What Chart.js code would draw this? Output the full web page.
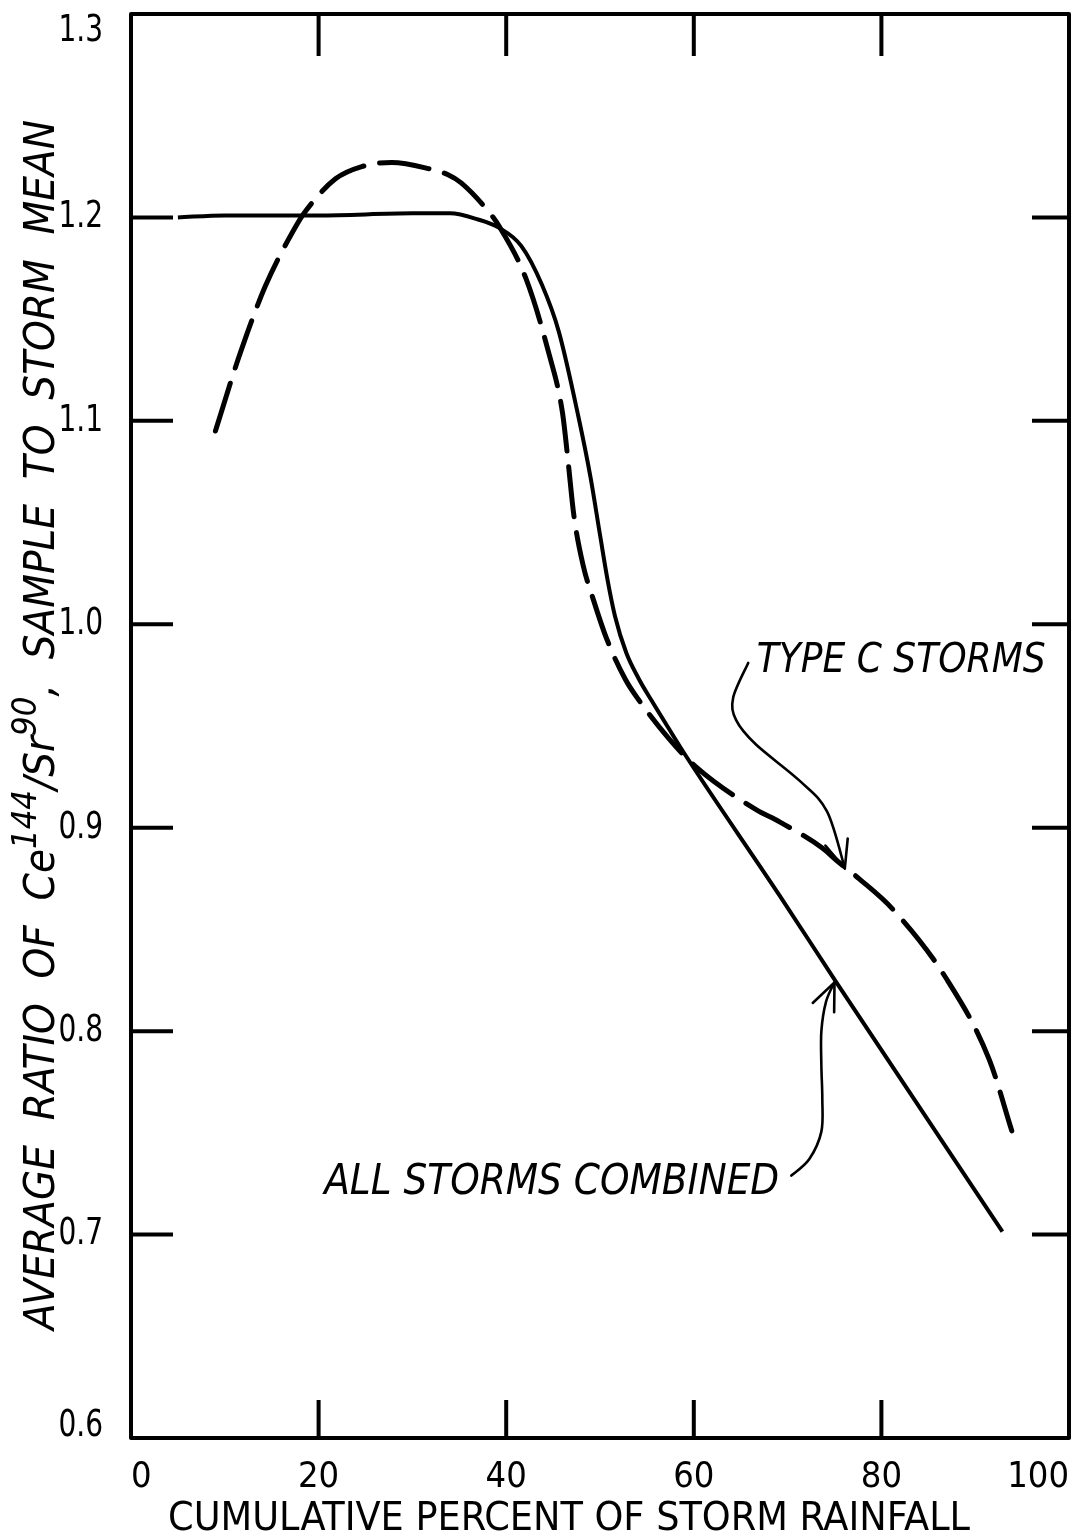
<!DOCTYPE html>
<html>
<head>
<meta charset="utf-8">
<script src="https://cdn.jsdelivr.net/npm/chart.js@4.4.0/dist/chart.umd.min.js"></script>
<style>
  html, body { margin: 0; padding: 0; background: #fff; }
</style>
</head>
<body>
<canvas id="ratio_canvas" width="1079" height="1535"></canvas>
<script>
// tick labels
const xTickLabels = ['0', '20', '40', '60', '80', '100'];
const yTickLabels = ['0.6', '0.7', '0.8', '0.9', '1.0', '1.1', '1.2', '1.3'];

// all storms combined (solid)
const allStormsX = [5, 10, 20, 30, 34, 37, 39.2, 41.6, 43.8, 45.6, 47.7, 49.0, 50.0, 50.8, 51.6, 52.8, 54.1, 55.5, 57.3, 59.2, 69.1, 75.2, 92.9];
const allStormsY = [1.200, 1.201, 1.201, 1.202, 1.202, 1.199, 1.195, 1.186, 1.167, 1.144, 1.102, 1.072, 1.044, 1.022, 1.004, 0.986, 0.9735, 0.9625, 0.949, 0.935, 0.867, 0.824, 0.7015];

// type C storms (dashed)
const typeCX = [9.0, 11.4, 14.3, 17.5, 18.6, 21.8, 24.6, 27.8, 31.7, 33.8, 35.2, 38.1, 39.2, 42.1, 44.5, 46.0, 46.6, 47.2, 48.2, 49.3, 50.7, 52.7, 54.1, 57.3, 60.2, 66.6, 69.1, 73.7, 75.2, 77.6, 81.2, 86.9, 91.5, 93.9];
const typeCY = [1.095, 1.130, 1.166, 1.195, 1.203, 1.219, 1.225, 1.227, 1.224, 1.221, 1.217, 1.203, 1.196, 1.170, 1.134, 1.104, 1.080, 1.054, 1.029, 1.012, 0.993, 0.973, 0.963, 0.944, 0.930, 0.909, 0.903, 0.890, 0.884, 0.875, 0.860, 0.826, 0.786, 0.751];

// labels + arrows (data units)
const typeCLabel = 'TYPE C STORMS';
const allStormsLabel = 'ALL STORMS COMBINED';
const typeCArrow = [[65.8, 0.981], [64.2, 0.964], [64.5, 0.953], [66.6, 0.941], [71.3, 0.923], [74.2, 0.908], [76.1, 0.880]];
const allStormsArrow = [[70.4, 0.729], [72.3, 0.737], [73.6, 0.7506], [73.7, 0.767], [73.6, 0.783], [73.6, 0.800], [74.1, 0.8145], [75.0, 0.824]];

const FONT = "'DejaVu Sans Condensed', 'DejaVu Sans', sans-serif";

function fitText(ctx, text, x, y, width, font) {
  ctx.save();
  ctx.font = font;
  const w = ctx.measureText(text).width;
  ctx.translate(x, y);
  ctx.scale(width / w, 1);
  ctx.textAlign = 'left';
  ctx.textBaseline = 'alphabetic';
  ctx.fillText(text, 0, 0);
  ctx.restore();
}

function smoothPath(ctx, pts) {
  ctx.moveTo(pts[0][0], pts[0][1]);
  for (let i = 0; i < pts.length - 1; i++) {
    const p0 = pts[Math.max(i - 1, 0)], p1 = pts[i], p2 = pts[i + 1], p3 = pts[Math.min(i + 2, pts.length - 1)];
    ctx.bezierCurveTo(
      p1[0] + (p2[0] - p0[0]) / 6, p1[1] + (p2[1] - p0[1]) / 6,
      p2[0] - (p3[0] - p1[0]) / 6, p2[1] - (p3[1] - p1[1]) / 6,
      p2[0], p2[1]);
  }
}

function drawArrow(ctx, chart, pts) {
  const xs = chart.scales.x, ys = chart.scales.y;
  const px = pts.map(p => [xs.getPixelForValue(p[0]), ys.getPixelForValue(p[1])]);
  ctx.save();
  ctx.strokeStyle = '#000';
  ctx.lineWidth = 2.6;
  ctx.lineCap = 'round';
  ctx.lineJoin = 'round';
  ctx.beginPath();
  smoothPath(ctx, px);
  ctx.stroke();
  const a = px[px.length - 2], b = px[px.length - 1];
  const ang = Math.atan2(b[1] - a[1], b[0] - a[0]);
  const len = 30, spread = 0.4;
  ctx.beginPath();
  ctx.moveTo(b[0] - len * Math.cos(ang - spread), b[1] - len * Math.sin(ang - spread));
  ctx.lineTo(b[0], b[1]);
  ctx.lineTo(b[0] - len * Math.cos(ang + spread), b[1] - len * Math.sin(ang + spread));
  ctx.stroke();
  ctx.restore();
}

const framePlugin = {
  id: 'frame',
  afterDraw(chart) {
    const ctx = chart.ctx;
    const { left, right, top, bottom } = chart.chartArea;
    const xs = chart.scales.x, ys = chart.scales.y;

    ctx.save();
    ctx.strokeStyle = '#000';
    ctx.lineWidth = 4;
    ctx.lineJoin = 'round';
    ctx.strokeRect(left, top, right - left, bottom - top);

    // inward ticks on all four sides
    ctx.beginPath();
    xs.ticks.forEach(t => {
      if (t.value <= xs.min || t.value >= xs.max) return;
      const p = xs.getPixelForValue(t.value);
      ctx.moveTo(p, bottom); ctx.lineTo(p, bottom - 38);
      ctx.moveTo(p, top); ctx.lineTo(p, top + 42);
    });
    ys.ticks.forEach(t => {
      if (t.value <= ys.min + 1e-9 || t.value >= ys.max - 1e-9) return;
      const p = ys.getPixelForValue(t.value);
      ctx.moveTo(left, p); ctx.lineTo(left + 42, p);
      ctx.moveTo(right, p); ctx.lineTo(right - 37, p);
    });
    ctx.stroke();

    ctx.fillStyle = '#000';

    // y tick labels, end ones pulled inside the frame
    ctx.font = '38px ' + FONT;
    ctx.textBaseline = 'middle';
    yTickLabels.forEach(l => {
      let p = ys.getPixelForValue(Number(l));
      p = Math.min(Math.max(p, top + 17), bottom - 12);
      const w = ctx.measureText(l).width;
      ctx.save();
      ctx.translate(103, p);
      ctx.scale(0.82, 1);
      ctx.fillText(l, -w, 0);
      ctx.restore();
    });

    // x axis title
    fitText(ctx, 'CUMULATIVE PERCENT OF STORM RAINFALL', 168, 1530, 802, '39px ' + FONT);

    // y axis title, rotated, with superscripts
    const parts = [
      { t: 'AVERAGE  RATIO  OF  Ce' },
      { t: '144', sup: true },
      { t: '/' },
      { t: 'Sr' },
      { t: '90', sup: true },
      { t: ',  SAMPLE  TO  STORM  MEAN' }
    ];
    const big = 'italic 43px ' + FONT, small = 'italic 34px ' + FONT;
    let total = 0;
    parts.forEach(p => { ctx.font = p.sup ? small : big; p.w = ctx.measureText(p.t).width; total += p.w; });
    const span = 1210;
    const sx = span / total;
    ctx.save();
    ctx.translate(54, 725);
    ctx.rotate(-Math.PI / 2);
    ctx.scale(sx, 1);
    ctx.textBaseline = 'alphabetic';
    let cx = -total / 2;
    parts.forEach(p => {
      ctx.font = p.sup ? small : big;
      ctx.fillText(p.t, cx, p.sup ? -18 : 0);
      cx += p.w;
    });
    ctx.restore();

    // curve labels
    fitText(ctx, typeCLabel, xs.getPixelForValue(66.7), ys.getPixelForValue(0.9767), 289, 'italic 40px ' + FONT);
    fitText(ctx, allStormsLabel, xs.getPixelForValue(20.6), ys.getPixelForValue(0.7197), 455, 'italic 42px ' + FONT);
    ctx.restore();

    drawArrow(ctx, chart, typeCArrow);
    drawArrow(ctx, chart, allStormsArrow);
  }
};

new Chart(document.getElementById('ratio_canvas'), {
  type: 'line',
  data: {
    datasets: [
      {
        label: allStormsLabel,
        data: allStormsX.map((x, i) => ({ x: x, y: allStormsY[i] })),
        borderColor: '#000',
        borderWidth: 4,
        pointRadius: 0,
        fill: false,
        cubicInterpolationMode: 'monotone'
      },
      {
        label: typeCLabel,
        data: typeCX.map((x, i) => ({ x: x, y: typeCY[i] })),
        borderColor: '#000',
        borderWidth: 5,
        borderDash: [50, 16],
        borderCapStyle: 'round',
        pointRadius: 0,
        fill: false,
        cubicInterpolationMode: 'monotone'
      }
    ]
  },
  options: {
    responsive: false,
    animation: false,
    devicePixelRatio: 1,
    layout: { padding: { top: 14, right: 10, left: 0, bottom: 0 } },
    plugins: {
      legend: { display: false },
      tooltip: { enabled: false }
    },
    scales: {
      x: {
        type: 'linear',
        min: 0,
        max: 100,
        grid: { display: false, drawTicks: false },
        border: { display: false },
        ticks: {
          stepSize: 20,
          align: 'inner',
          padding: 18,
          color: '#000',
          font: { family: FONT, size: 36 },
          callback: v => xTickLabels.find(l => Math.abs(Number(l) - v) < 1e-6)
        },
        afterFit: s => { s.height = 97; s.paddingLeft = 0; s.paddingRight = 0; }
      },
      y: {
        type: 'linear',
        min: 0.6,
        max: 1.3,
        grid: { display: false, drawTicks: false },
        border: { display: false },
        ticks: {
          stepSize: 0.1,
          display: false,
          callback: v => yTickLabels.find(l => Math.abs(Number(l) - v) < 1e-6)
        },
        afterFit: s => { s.width = 131; s.paddingTop = 0; s.paddingBottom = 0; }
      }
    }
  },
  plugins: [framePlugin]
});
</script>
</body>
</html>
